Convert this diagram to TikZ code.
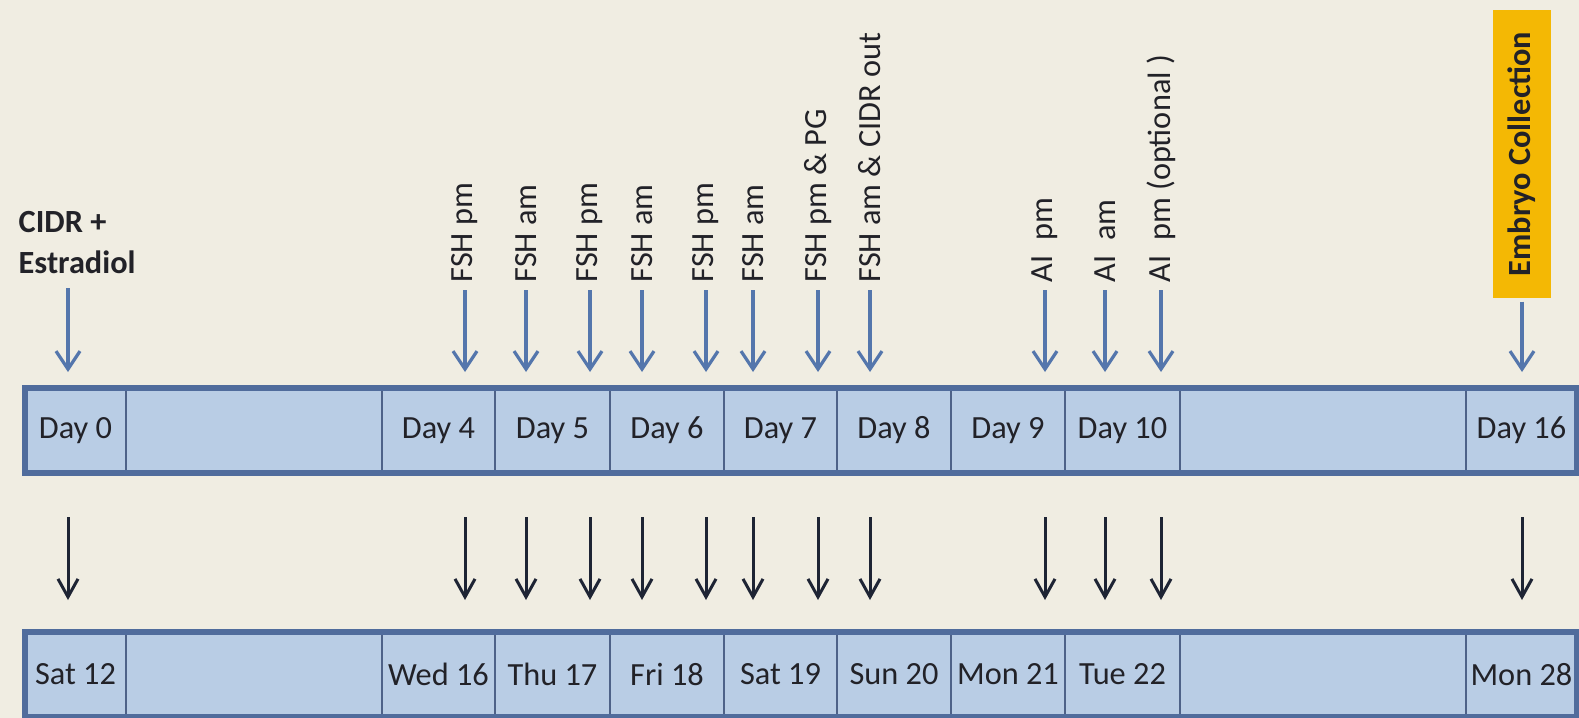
\documentclass[tikz,border=0pt]{standalone}
\usepackage{fontspec}
\setmainfont{Carlito}
\usetikzlibrary{positioning,arrows.meta}

\definecolor{paper}{RGB}{240,237,226}
\definecolor{cellfill}{RGB}{185,205,229}
\definecolor{divline}{RGB}{78,98,136}
\definecolor{frameblue}{RGB}{80,108,156}
\definecolor{arrblue}{RGB}{84,118,172}
\definecolor{arrblack}{RGB}{30,36,52}
\definecolor{embyellow}{RGB}{244,184,4}
\definecolor{inktext}{RGB}{34,34,40}

\begin{document}
\begin{tikzpicture}[x=0.1mm, y=-0.1mm, text=inktext,
  cell/.style={draw=divline, line width=0.22mm, fill=cellfill, minimum height=8.5mm, inner sep=0pt, outer sep=0pt, font=\fontsize{9.2}{11}\selectfont},
  rowframe/.style={draw=frameblue, line width=0.55mm},
  vlabel/.style={rotate=90, anchor=west, inner sep=0pt, font=\fontsize{9.2}{11}\selectfont},
  embbox/.style={rotate=90, fill=embyellow, minimum width=28.8mm, minimum height=5.8mm, inner sep=0pt, font=\fontsize{9.2}{11}\selectfont\bfseries},
  bluearr/.style={-{Straight Barb[length=1.8mm,width=2.4mm]}, draw=arrblue, line width=0.32mm, shorten <=0.7mm},
  blackarr/.style={-{Straight Barb[length=1.8mm,width=2mm]}, draw=arrblack, line width=0.3mm}]
\fill[paper] (0,0) rectangle (1579,718);
\useasboundingbox (0,0) rectangle (1579,718);

% top row: days
\node (d0)[cell, minimum width=10.1mm] at (75.5,430.5) {Day 0};
\node (d1)[cell, minimum width=25.6mm] [right=0pt of d0] {};
\node (d4)[cell, minimum width=11.3mm] [right=0pt of d1] {Day 4};
\node (d5)[cell, minimum width=11.5mm] [right=0pt of d4] {Day 5};
\node (d6)[cell, minimum width=11.4mm] [right=0pt of d5] {Day 6};
\node (d7)[cell, minimum width=11.3mm] [right=0pt of d6] {Day 7};
\node (d8)[cell, minimum width=11.4mm] [right=0pt of d7] {Day 8};
\node (d9)[cell, minimum width=11.4mm] [right=0pt of d8] {Day 9};
\node (d10)[cell, minimum width=11.5mm] [right=0pt of d9] {Day 10};
\node (d11)[cell, minimum width=28.6mm] [right=0pt of d10] {};
\node (d16)[cell, minimum width=11.1mm] [right=0pt of d11] {Day 16};
\draw[rowframe] (d0.north west) rectangle (d16.south east);

% bottom row: dates
\node (s12)[cell, minimum width=10.1mm] [below=15.9mm of d0] {Sat 12};
\node (s13)[cell, minimum width=25.6mm] [right=0pt of s12] {};
\node (w16)[cell, minimum width=11.3mm] [right=0pt of s13] {Wed 16};
\node (t17)[cell, minimum width=11.5mm] [right=0pt of w16] {Thu 17};
\node (f18)[cell, minimum width=11.4mm] [right=0pt of t17] {Fri 18};
\node (s19)[cell, minimum width=11.3mm] [right=0pt of f18] {Sat 19};
\node (s20)[cell, minimum width=11.4mm] [right=0pt of s19] {Sun 20};
\node (m21)[cell, minimum width=11.4mm] [right=0pt of s20] {Mon 21};
\node (t22)[cell, minimum width=11.5mm] [right=0pt of m21] {Tue 22};
\node (w23)[cell, minimum width=28.6mm] [right=0pt of t22] {};
\node (m28)[cell, minimum width=11.1mm] [right=0pt of w23] {Mon 28};
\draw[rowframe] (s12.north west) rectangle (m28.south east);

% treatments
\node (cidr)[anchor=north west, align=left, inner sep=0pt, font=\fontsize{9.2}{11.6}\selectfont\bfseries] at (18,211) {CIDR +\\Estradiol};
\coordinate (cidrarr) at (68,288);
\node (l1)[vlabel] at (465,283) {FSH pm};
\node (l2)[vlabel] at (526,283) {FSH am};
\node (l3)[vlabel] at (590,283) {FSH pm};
\node (l4)[vlabel] at (642,283) {FSH am};
\node (l5)[vlabel] at (706,283) {FSH pm};
\node (l6)[vlabel] at (753,283) {FSH am};
\node (l7)[vlabel] at (818,283) {FSH pm \& PG};
\node (l8)[vlabel] at (870,283) {FSH am \& CIDR out};
\node (l9)[vlabel] at (1045,283) {AI~~pm};
\node (l10)[vlabel] at (1105,283) {AI~~am};
\node (l11)[vlabel] at (1161,283) {AI~~pm (optional )};
\node (emb)[embbox] at (1522,154) {Embryo Collection};

\coordinate (btip) at (0,372);
\coordinate (ktop) at (0,517);
\coordinate (kbot) at (0,600);

\draw[bluearr, shorten <=0pt] (cidrarr) -- (cidrarr |- btip);
\draw[bluearr] (l1.west) -- (l1.west |- btip);
\draw[bluearr] (l2.west) -- (l2.west |- btip);
\draw[bluearr] (l3.west) -- (l3.west |- btip);
\draw[bluearr] (l4.west) -- (l4.west |- btip);
\draw[bluearr] (l5.west) -- (l5.west |- btip);
\draw[bluearr] (l6.west) -- (l6.west |- btip);
\draw[bluearr] (l7.west) -- (l7.west |- btip);
\draw[bluearr] (l8.west) -- (l8.west |- btip);
\draw[bluearr] (l9.west) -- (l9.west |- btip);
\draw[bluearr] (l10.west) -- (l10.west |- btip);
\draw[bluearr] (l11.west) -- (l11.west |- btip);
\draw[bluearr, shorten <=0.3mm] (emb.west) -- (emb.west |- btip);

% day -> date
\draw[blackarr] (cidrarr |- ktop) -- (cidrarr |- kbot);
\draw[blackarr] (l1 |- ktop) -- (l1 |- kbot);
\draw[blackarr] (l2 |- ktop) -- (l2 |- kbot);
\draw[blackarr] (l3 |- ktop) -- (l3 |- kbot);
\draw[blackarr] (l4 |- ktop) -- (l4 |- kbot);
\draw[blackarr] (l5 |- ktop) -- (l5 |- kbot);
\draw[blackarr] (l6 |- ktop) -- (l6 |- kbot);
\draw[blackarr] (l7 |- ktop) -- (l7 |- kbot);
\draw[blackarr] (l8 |- ktop) -- (l8 |- kbot);
\draw[blackarr] (l9 |- ktop) -- (l9 |- kbot);
\draw[blackarr] (l10 |- ktop) -- (l10 |- kbot);
\draw[blackarr] (l11 |- ktop) -- (l11 |- kbot);
\draw[blackarr] (emb |- ktop) -- (emb |- kbot);
\end{tikzpicture}
\end{document}
